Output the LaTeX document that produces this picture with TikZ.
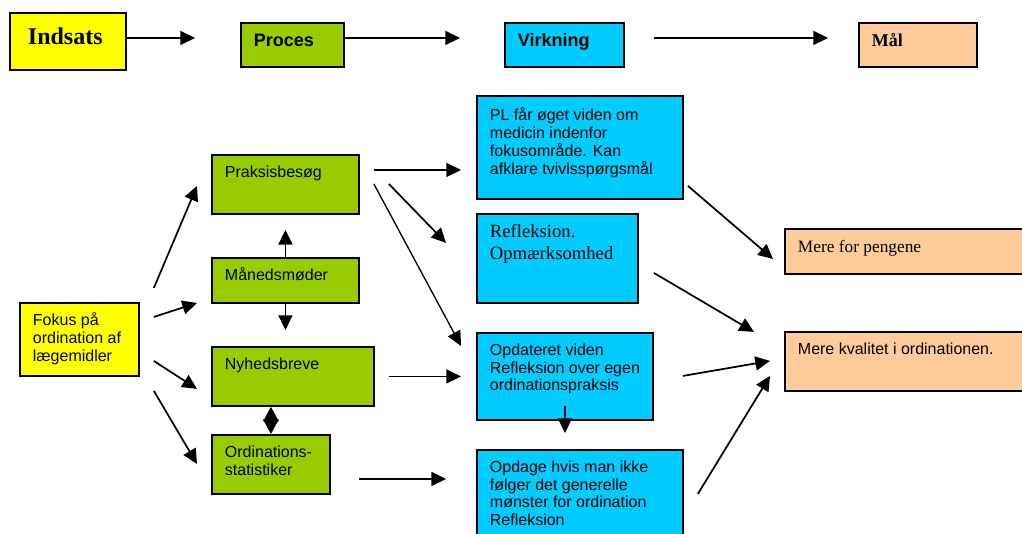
\documentclass[tikz,border=0pt]{standalone}
\usepackage{fontspec}
\setmainfont{Liberation Sans}
\newfontfamily\tnr{Liberation Serif}
\usetikzlibrary{arrows.meta,calc}
\definecolor{indsatsgul}{HTML}{FFFF00}
\definecolor{procesgron}{HTML}{99CC00}
\definecolor{virkblaa}{HTML}{00CCFF}
\definecolor{maalfarve}{HTML}{FFCC99}
\newdimen\px \px=0.75pt
\newcommand{\boxtext}[3]{\parbox[t][#2\px][t]{#1\px}{\raggedright\strut #3}}
\tikzset{
  box/.style={draw, line width=1.4pt, anchor=north west, inner xsep=9.75pt, inner ysep=7.5pt, font=\fontsize{12}{13.3}\selectfont},
  arr/.style={-{Triangle[length=11pt,width=10.5pt]}, line width=1.3pt},
  dbl/.style={{Triangle[length=10.9pt,width=11.5pt]}-{Triangle[length=10.9pt,width=11.5pt]}, line width=1.3pt}
}

\begin{document}
\begin{tikzpicture}[x=0.75pt,y=-0.75pt]
	\useasboundingbox (0,0) rectangle (1022,533);
	\node[box, fill=indsatsgul, inner xsep=13.5pt, inner ysep=9pt, font=\tnr\bfseries\fontsize{18}{20.7}\selectfont] (indsats) at (9,12) {\boxtext{80}{33}{Indsats}};
	\node[box, fill=procesgron, inner ysep=7.125pt, font=\bfseries\fontsize{13.5}{15.5}\selectfont] (proces) at (240,22) {\boxtext{77}{25}{Proces}};
	\node[box, fill=virkblaa, inner ysep=7.125pt, font=\bfseries\fontsize{13.5}{15.5}\selectfont] (virkning) at (504,22) {\boxtext{93}{25}{Virkning}};
	\node[box, fill=maalfarve, inner ysep=7.125pt, font=\tnr\bfseries\fontsize{13.5}{15.5}\selectfont] (maal) at (858,22) {\boxtext{92}{25}{Mål}};
	\draw[arr] ($(indsats.east)+(0,-3.5)$) -- ($(proces.west)+(-45,-7)$);
	\draw[arr] ($(proces.east)+(0,-7)$) -- ($(virkning.west)+(-44,-7)$);
	\draw[arr] ($(virkning.east)+(29,-7)$) -- ($(maal.west)+(-30,-7)$);

	\node[box, fill=indsatsgul] (fokus) at (19,302) {\boxtext{93}{53}{Fokus på\\ordination af\\lægemidler}};
	\node[box, fill=procesgron] (praksis) at (211,154) {\boxtext{121}{39}{Praksisbesøg}};
	\node[box, fill=procesgron] (maaned) at (211,257) {\boxtext{121}{25}{Månedsmøder}};
	\node[box, fill=procesgron] (nyhed) at (211,346) {\boxtext{136}{39}{Nyhedsbreve}};
	\node[box, fill=procesgron] (ordin) at (211,434) {\boxtext{92}{39}{Ordinations-\\statistiker}};
	\node[box, fill=virkblaa, inner ysep=9pt, font=\fontsize{12}{13.5}\selectfont] (pl) at (476,95) {\boxtext{180}{79}{PL får øget viden om\\medicin indenfor\\fokusområde. Kan\\afklare tvivlsspørgsmål}};
	\node[box, fill=virkblaa, inner ysep=6.5pt, font=\tnr\fontsize{14}{16.1}\selectfont] (refl) at (476,213) {\boxtext{135}{71.6}{Refleksion.\\Opmærksomhed}};
	\node[box, fill=virkblaa] (opdat) at (476,332) {\boxtext{150}{67}{Opdateret viden\\Refleksion over egen\\ordinationspraksis}};
	\node[box, fill=virkblaa] (opdage) at (476,449) {\boxtext{180}{80}{Opdage hvis man ikke\\følger det generelle\\mønster for ordination\\Refleksion}};
	\node[box, fill=maalfarve, inner ysep=7.3pt, font=\tnr\fontsize{13}{15}\selectfont] (penge) at (784,228) {\boxtext{224}{25.6}{Mere for pengene}};
	\node[box, fill=maalfarve] (kval) at (784,331) {\boxtext{224}{39}{Mere kvalitet i ordinationen.}};

	\draw[arr] ($(fokus.east)+(14,-51.5)$) -- ($(praksis.west)+(-14,1.5)$);
	\draw[arr] ($(fokus.east)+(14,-22.5)$) -- ($(maaned.west)+(-14,22.5)$);
	\draw[arr] ($(fokus.east)+(14,21.5)$) -- ($(nyhed.west)+(-14,12.5)$);
	\draw[arr] ($(fokus.east)+(14,51.5)$) -- ($(ordin.west)+(-14,-0.5)$);
	\draw[arr] (maaned.north) -- ($(praksis.south)+(0,15)$);
	\draw[arr] (maaned.south) -- ($(nyhed.north)+(-7.5,-16)$);
	\draw[dbl] (ordin.north |- nyhed.south) -- (ordin.north);

	\draw[arr] ($(praksis.east)+(14,-14.5)$) -- ($(pl.west)+(-15,22.5)$);
	\draw[arr] ($(praksis.east)+(29,-0.5)$) -- ($(refl.west)+(-30,-15.5)$);
	\draw[arr, line width=1pt] ($(praksis.east)+(14,-0.5)$) -- ($(opdat.west)+(-15,-30.5)$);
	\draw[arr] ($(nyhed.east)+(14,0)$) -- ($(opdat.west)+(-15,0)$);
	\draw[arr] ($(ordin.east)+(28,14.5)$) -- ($(opdage.west)+(-30,-21)$);
	\draw[arr] ($(opdat.south)+(0,-15)$) -- ($(opdage.north)+(-15,-16)$);

	\draw[arr] ($(pl.south east)+(4,-14)$) -- ($(penge.west)+(-11,7.5)$);
	\draw[arr] ($(refl.east)+(15,14.5)$) -- ($(kval.west)+(-30,-29.5)$);
	\draw[arr] ($(opdat.east)+(29,-0.5)$) -- ($(kval.west)+(-14,-0.5)$);
	\draw[arr] ($(opdage.east)+(14,-6)$) -- ($(kval.west)+(-14,14.5)$);
\end{tikzpicture}
\end{document}
